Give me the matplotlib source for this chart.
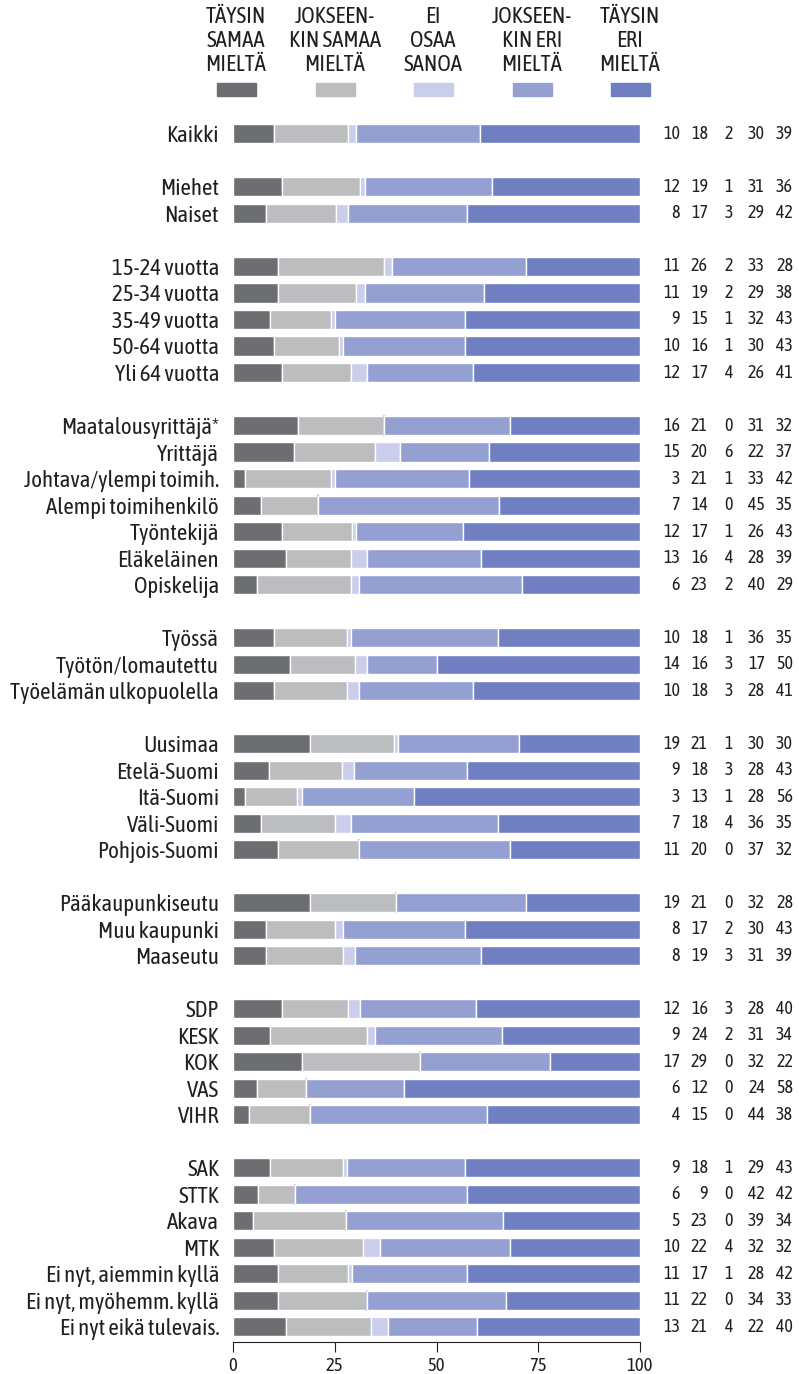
import matplotlib.pyplot as plt
from matplotlib.patches import Rectangle
import numpy as np

plt.rcParams['font.family'] = ['Asap Condensed', 'Liberation Sans', 'DejaVu Sans']

# legend headings and colours
categories = ['TÄYSIN\nSAMAA\nMIELTÄ', 'JOKSEEN-\nKIN SAMAA\nMIELTÄ', 'EI\nOSAA\nSANOA',
              'JOKSEEN-\nKIN ERI\nMIELTÄ', 'TÄYSIN\nERI\nMIELTÄ']
colors = ['#6d6e72', '#bcbdbf', '#cacdeb', '#949fd2', '#6f7fc2']

# groups of rows (label, values in %)
groups = [
    [('Kaikki', [10, 18, 2, 30, 39])],
    [('Miehet', [12, 19, 1, 31, 36]),
     ('Naiset', [8, 17, 3, 29, 42])],
    [('15-24 vuotta', [11, 26, 2, 33, 28]),
     ('25-34 vuotta', [11, 19, 2, 29, 38]),
     ('35-49 vuotta', [9, 15, 1, 32, 43]),
     ('50-64 vuotta', [10, 16, 1, 30, 43]),
     ('Yli 64 vuotta', [12, 17, 4, 26, 41])],
    [('Maatalousyrittäjä*', [16, 21, 0, 31, 32]),
     ('Yrittäjä', [15, 20, 6, 22, 37]),
     ('Johtava/ylempi toimih.', [3, 21, 1, 33, 42]),
     ('Alempi toimihenkilö', [7, 14, 0, 45, 35]),
     ('Työntekijä', [12, 17, 1, 26, 43]),
     ('Eläkeläinen', [13, 16, 4, 28, 39]),
     ('Opiskelija', [6, 23, 2, 40, 29])],
    [('Työssä', [10, 18, 1, 36, 35]),
     ('Työtön/lomautettu', [14, 16, 3, 17, 50]),
     ('Työelämän ulkopuolella', [10, 18, 3, 28, 41])],
    [('Uusimaa', [19, 21, 1, 30, 30]),
     ('Etelä-Suomi', [9, 18, 3, 28, 43]),
     ('Itä-Suomi', [3, 13, 1, 28, 56]),
     ('Väli-Suomi', [7, 18, 4, 36, 35]),
     ('Pohjois-Suomi', [11, 20, 0, 37, 32])],
    [('Pääkaupunkiseutu', [19, 21, 0, 32, 28]),
     ('Muu kaupunki', [8, 17, 2, 30, 43]),
     ('Maaseutu', [8, 19, 3, 31, 39])],
    [('SDP', [12, 16, 3, 28, 40]),
     ('KESK', [9, 24, 2, 31, 34]),
     ('KOK', [17, 29, 0, 32, 22]),
     ('VAS', [6, 12, 0, 24, 58]),
     ('VIHR', [4, 15, 0, 44, 38])],
    [('SAK', [9, 18, 1, 29, 43]),
     ('STTK', [6, 9, 0, 42, 42]),
     ('Akava', [5, 23, 0, 39, 34]),
     ('MTK', [10, 22, 4, 32, 32]),
     ('Ei nyt, aiemmin kyllä', [11, 17, 1, 28, 42]),
     ('Ei nyt, myöhemm. kyllä', [11, 22, 0, 34, 33]),
     ('Ei nyt eikä tulevais.', [13, 21, 4, 22, 40])],
]

labels, values, ypos = [], [], []
slot = 0
for g in groups:
    for lab, vals in g:
        labels.append(lab)
        values.append(vals)
        ypos.append(slot)
        slot += 1
    slot += 1  # empty row between groups
values = np.array(values, dtype=float)
ypos = np.array(ypos)
# bars are drawn to fill 100 %
shares = values / values.sum(axis=1, keepdims=True) * 100

W, H = 799, 1374
txt = '#231f20'
fig = plt.figure(figsize=(W / 100, H / 100), dpi=100)
ax = fig.add_axes([233 / W, 1 - 1342 / H, 407 / W, (1342 - 118) / H])

left = np.zeros(len(labels))
for i in range(5):
    ax.barh(ypos, shares[:, i], left=left, height=0.72, color=colors[i],
            edgecolor='white', linewidth=1.0)
    if i == 2:
        zero = values[:, i] == 0
        ax.barh(ypos[zero], 0, left=left[zero], height=0.8, color=colors[i],
                edgecolor=colors[i], linewidth=1.5)
    left += shares[:, i]

ax.set_xlim(0, 100)
ax.set_ylim(ypos[-1] + 0.57, -0.6)
ax.set_yticks(ypos)
ax.set_yticklabels(labels, fontsize=16.5, color=txt)
ax.tick_params(axis='y', length=0, pad=10)
ax.set_xticks([0, 25, 50, 75, 100])
ax.tick_params(axis='x', direction='out', length=7, width=0.8, labelsize=13.5,
               colors=txt, pad=4)
for s in ['top', 'right', 'left']:
    ax.spines[s].set_visible(False)
ax.spines['bottom'].set_linewidth(0.8)
ax.spines['bottom'].set_color(txt)

# numbers on the right
num_x = [109.8, 116.7, 122.9, 130.7, 137.6]
for r in range(len(labels)):
    for i in range(5):
        ax.text(num_x[i], ypos[r], '%d' % values[r, i], ha='right', va='center',
                fontsize=13, color=txt, clip_on=False)

# legend at top
leg_x = [236, 335, 433, 532, 630]
for i in range(5):
    fig.text(leg_x[i] / W, 1 - 6 / H, categories[i], ha='center', va='top',
             multialignment='center', fontsize=16.5, color=txt, linespacing=1.12)
    fig.patches.append(Rectangle(((leg_x[i] - 19.5) / W, 1 - 96 / H), 39 / W, 13 / H,
                                 transform=fig.transFigure, color=colors[i]))

fig.savefig('out.png', dpi=100)
